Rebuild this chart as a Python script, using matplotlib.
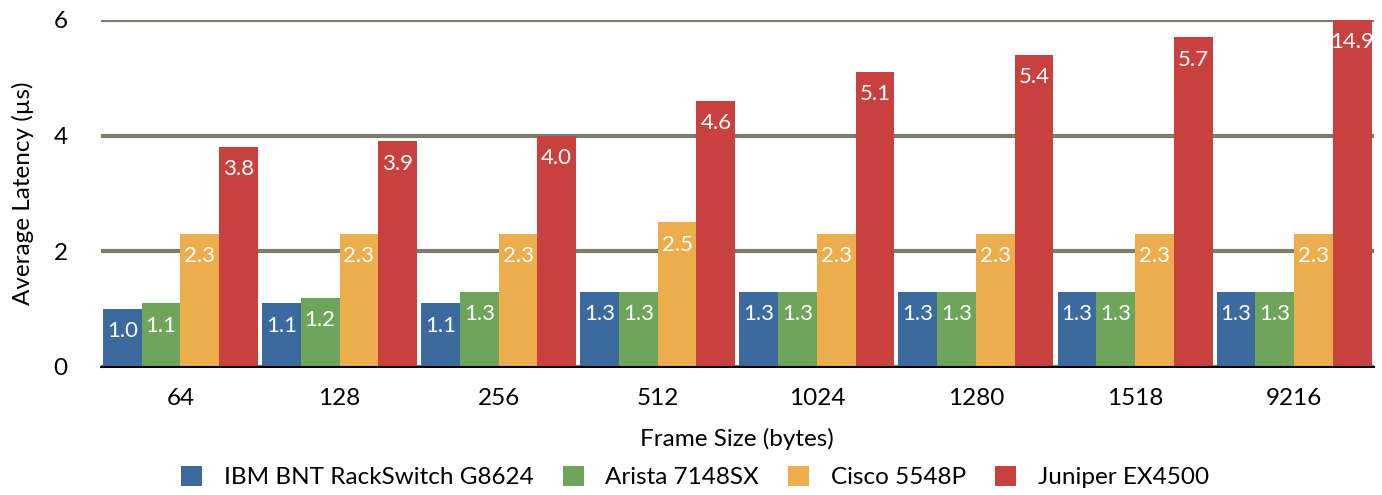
import numpy as np
import matplotlib.pyplot as plt

plt.rcParams['font.family'] = ['Lato', 'DejaVu Sans']

frame_sizes = ['64', '128', '256', '512', '1024', '1280', '1518', '9216']
ibm = [1.0, 1.1, 1.1, 1.3, 1.3, 1.3, 1.3, 1.3]
arista = [1.1, 1.2, 1.3, 1.3, 1.3, 1.3, 1.3, 1.3]
cisco = [2.3, 2.3, 2.3, 2.5, 2.3, 2.3, 2.3, 2.3]
juniper = [3.8, 3.9, 4.0, 4.6, 5.1, 5.4, 5.7, 14.9]

series = [
    ('IBM BNT RackSwitch G8624', ibm, '#3c6a9e'),
    ('Arista 7148SX', arista, '#6ea55a'),
    ('Cisco 5548P', cisco, '#ecae4c'),
    ('Juniper EX4500', juniper, '#c9413e'),
]

ymax = 6
fig = plt.figure(figsize=(13.82, 4.95), dpi=100)
ax = fig.add_axes([0.073, 0.2586, 0.921, 0.701])

x = np.arange(len(frame_sizes))
w = 0.2435
for i, (name, vals, color) in enumerate(series):
    pos = x + (i - 1.5) * w
    ax.bar(pos, vals, width=w, color=color, label=name, zorder=3)
    for p, v in zip(pos, vals):
        ax.annotate(f'{v:.1f}', (p, min(v, ymax)), xytext=(0, -16),
                    textcoords='offset points', ha='center', va='center',
                    color='white', fontsize=16, zorder=4)

ax.set_ylim(0, ymax)
ax.set_xlim(-0.5, len(frame_sizes) - 0.5)
ax.set_yticks([0, 2, 4, 6])
ax.set_xticks(x)
ax.set_xticklabels(frame_sizes)
ax.tick_params(axis='both', length=0, labelsize=17.5)
ax.tick_params(axis='y', pad=24)
ax.tick_params(axis='x', pad=15)
ax.yaxis.grid(True, color='#7f7b6e', linewidth=3)
ax.set_axisbelow(True)
for s in ['top', 'right', 'left']:
    ax.spines[s].set_visible(False)
ax.spines['bottom'].set_linewidth(1.5)
ax.spines['bottom'].set_zorder(5)

ax.set_ylabel('Average Latency (µs)', fontsize=17.5, labelpad=14)
ax.set_xlabel('Frame Size (bytes)', fontsize=17.5, labelpad=14)

handles, labels = ax.get_legend_handles_labels()
fig.legend(handles, labels, loc='center', bbox_to_anchor=(0.503, 0.036), ncol=4,
           frameon=False, fontsize=17.5, handlelength=0.85, handleheight=0.85,
           columnspacing=1.2, handletextpad=0.9)

fig.savefig('out.png', dpi=100)
